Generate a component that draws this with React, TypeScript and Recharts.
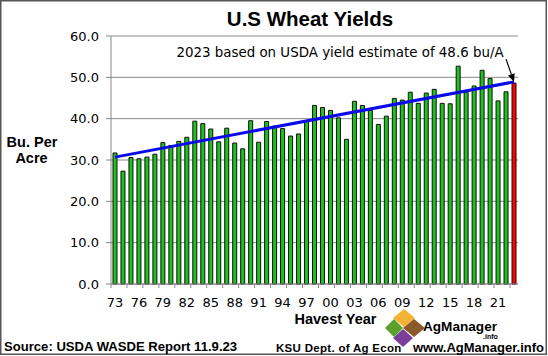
import { BarChart, Bar, Line, XAxis, YAxis, CartesianGrid, Cell, ReferenceLine } from 'recharts';

const years = [
    '73', '74', '75', '76', '77', '78', '79', '80', '81', '82',
    '83', '84', '85', '86', '87', '88', '89', '90', '91', '92',
    '93', '94', '95', '96', '97', '98', '99', '00', '01', '02',
    '03', '04', '05', '06', '07', '08', '09', '10', '11', '12',
    '13', '14', '15', '16', '17', '18', '19', '20', '21', '22', '23',
];

const yields = [
    31.7, 27.3, 30.6, 30.3, 30.7, 31.4, 34.2, 33.5, 34.5, 35.5,
    39.4, 38.8, 37.5, 34.4, 37.7, 34.1, 32.7, 39.5, 34.3, 39.3,
    38.2, 37.6, 35.8, 36.3, 39.5, 43.2, 42.7, 42.0, 40.2, 35.0,
    44.2, 43.2, 42.0, 38.6, 40.6, 44.9, 44.5, 46.4, 43.7, 46.2,
    47.1, 43.7, 43.6, 52.7, 46.4, 47.9, 51.7, 49.7, 44.3, 46.5, 48.6,
];

// trend line end points (first and last year)
const trendEnds = [30.7, 48.9];
const yTicks = [0, 10, 20, 30, 40, 50, 60];

const data = years.map((year, i) => ({
    year,
    yield: yields[i],
    trend: i === 0 ? trendEnds[0] : i === years.length - 1 ? trendEnds[1] : null,
}));

const FONT = 'DejaVu Sans, Verdana, sans-serif';
const BOLD = 'Liberation Sans, Arial, sans-serif';

function XTick(props: any) {
    const { x, y, payload, index } = props;
    const off = payload && typeof payload.offset === 'number' ? payload.offset : 4;
    const axisY = y - 14;
    return (
        <g>
            {index % 2 === 0 && <line x1={x - off} x2={x - off} y1={axisY} y2={axisY + 4} stroke="#888" />}
            {index % 3 === 0 && (
                <text x={x} y={y} dy="0.71em" textAnchor="middle" fontSize={13} fontFamily={FONT} fill="#000">
                    {payload.value}
                </text>
            )}
        </g>
    );
}

function Arrow(props: any) {
    const { x1, y1, x2, y2 } = props;
    const ang = Math.atan2(y2 - y1, x2 - x1);
    const len = 8;
    const w = 3.5;
    const bx = x2 - len * Math.cos(ang);
    const by = y2 - len * Math.sin(ang);
    const px = -Math.sin(ang) * w;
    const py = Math.cos(ang) * w;
    return (
        <g>
            <line x1={x1} y1={y1} x2={bx} y2={by} stroke="#000" strokeWidth={1.2} />
            <polygon points={`${x2},${y2} ${bx + px},${by + py} ${bx - px},${by - py}`} fill="#000" />
        </g>
    );
}

export default function App() {
    return (
        <div style={{ position: 'absolute', left: 0, top: 0, width: 548, height: 356, background: '#fff' }}>
            <BarChart width={548} height={356} data={data} margin={{ top: 36, right: 30, bottom: 42, left: 0 }} barSize={4}>
                <CartesianGrid vertical={false} stroke="#8a8a8a" />
                <XAxis
                    dataKey="year"
                    interval={0}
                    height={30}
                    tickSize={4}
                    tickMargin={10}
                    tickLine={{ stroke: 'none' }}
                    axisLine={{ stroke: '#888' }}
                    tick={<XTick />}
                />
                <YAxis
                    domain={[0, 60]}
                    ticks={yTicks}
                    interval={0}
                    width={111}
                    tickSize={5}
                    tickMargin={7}
                    tickFormatter={(v: number) => v.toFixed(1)}
                    tick={{ fill: '#000', fontSize: 13, fontFamily: FONT }}
                    axisLine={{ stroke: '#888' }}
                    tickLine={{ stroke: '#888' }}
                />
                <YAxis yAxisId="r" orientation="right" width={0} domain={[0, 60]} tick={false} tickLine={false} axisLine={{ stroke: '#888' }} />
                <Bar dataKey="yield" stroke="#111" strokeWidth={1} isAnimationActive={false}>
                    {data.map((d, i) => (
                        <Cell key={d.year} fill={i === data.length - 1 ? '#ff0000' : '#1ec21e'} />
                    ))}
                </Bar>
                <Line dataKey="trend" stroke="#0a0ae6" strokeWidth={3} dot={false} connectNulls isAnimationActive={false} />
                <ReferenceLine segment={[{ x: '22', y: 54.4 }, { x: '23', y: 48.9 }]} shape={(p: any) => <Arrow {...p} />} />
            </BarChart>

            <svg width={548} height={356} style={{ position: 'absolute', left: 0, top: 0, pointerEvents: 'none' }}>
                <rect x={0.75} y={0.75} width={545.5} height={353.5} fill="none" stroke="#555" strokeWidth={1.5} />
                <text x={310} y={26} textAnchor="middle" fontFamily={BOLD} fontWeight="bold" fontSize={20.5}>U.S Wheat Yields</text>
                <text x={340} y={57} textAnchor="middle" fontFamily={FONT} fontSize={13.4}>2023 based on USDA yield estimate of 48.6 bu/A</text>
                <text x={32} y={147} textAnchor="middle" fontFamily={BOLD} fontWeight="bold" fontSize={14.5}>Bu. Per</text>
                <text x={31.5} y={162.5} textAnchor="middle" fontFamily={BOLD} fontWeight="bold" fontSize={14.5}>Acre</text>
                <text x={335.5} y={324} textAnchor="middle" fontFamily={BOLD} fontWeight="bold" fontSize={14.5}>Havest Year</text>
                <text x={4} y={351} fontFamily={BOLD} fontWeight="bold" fontSize={13.1}>Source:  USDA WASDE Report 11.9.23</text>
                <text x={276} y={352} fontFamily={BOLD} fontWeight="bold" fontSize={11.5} letterSpacing={0.3}>KSU Dept. of Ag Econ</text>
                <text x={413} y={352} fontFamily={BOLD} fontWeight="bold" fontSize={13}>www.AgManager.info</text>
                {/* logo */}
                <polygon points="404,309 415,318 404,327 393,318" fill="#f2b233" />
                <polygon points="394,319 403,328 394,337 385,328" fill="#5aa02c" />
                <polygon points="414,319 425,328 414,337 403,328" fill="#8b5a2b" />
                <polygon points="403,329 413,338 403,347 393,338" fill="#7b3f99" />
                <text x={423} y={331} fontFamily={BOLD} fontWeight="bold" fontSize={13.6}>AgManager</text>
                <text x={483} y={338.5} fontFamily={BOLD} fontWeight="bold" fontSize={7}>.info</text>
            </svg>
        </div>
    );
}
